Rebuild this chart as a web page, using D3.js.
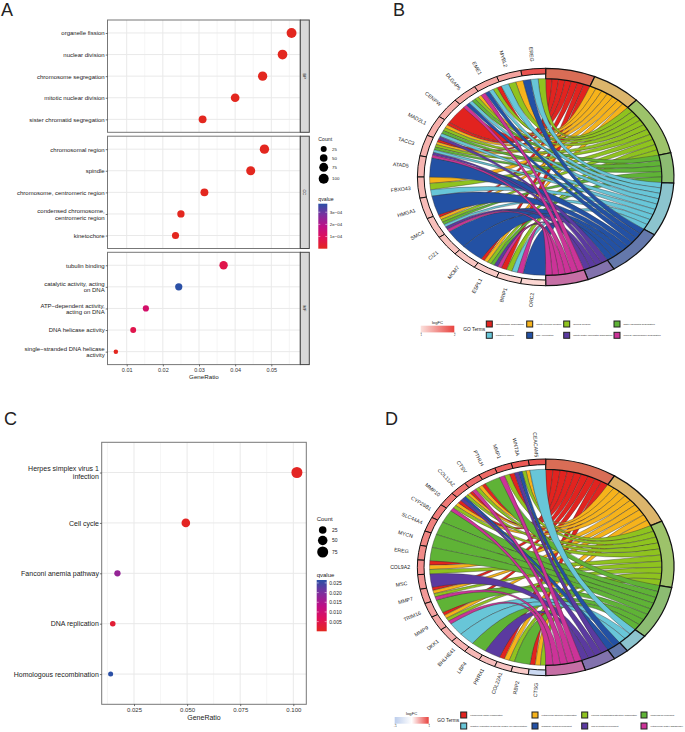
<!DOCTYPE html>
<html>
<head>
<meta charset="utf-8">
<script src="https://cdn.jsdelivr.net/npm/d3@7"></script>
<style>
  body { margin: 0; background: #fff; }
  text { font-family: "Liberation Sans", Arial, sans-serif; fill: #222; }
</style>
</head>
<body>
<script>
// panel A dot plot, one set of arrays per facet
var bpTerms = ["organelle fission", "nuclear division", "chromosome segregation", "mitotic nuclear division", "sister chromatid segregation"];
var bpRatio = [0.0556, 0.0531, 0.0476, 0.0400, 0.0310];
var bpCount = [97, 93, 83, 70, 54];
var bpQ = [0, 0, 0, 0, 0];

var ccTerms = ["chromosomal region", "spindle", "chromosome, centromeric region", "condensed chromosome,\ncentromeric region", "kinetochore"];
var ccRatio = [0.0481, 0.0443, 0.0315, 0.0250, 0.0235];
var ccCount = [84, 77, 55, 44, 41];
var ccQ = [0, 0, 0, 0, 0];

var mfTerms = ["tubulin binding", "catalytic activity, acting\non DNA", "ATP\u2212dependent activity,\nacting on DNA", "DNA helicase activity", "single\u2212stranded DNA helicase\nactivity"];
var mfRatio = [0.0368, 0.0244, 0.0153, 0.0118, 0.0070];
var mfCount = [64, 43, 27, 24, 10];
var mfQ = [0.00007, 0.00037, 0.000125, 0.00007, 0];

var xTicksA = [0.01, 0.02, 0.03, 0.04, 0.05];
var xMinorA = [0.015, 0.025, 0.035, 0.045, 0.055];
var countLegendA = [25, 50, 75, 100];
var qTicksA = [0.0001, 0.0002, 0.0003];
var qLabelsA = ["1e\u221204", "2e\u221204", "3e\u221204"];

// panel C dot plot
var keggTerms = ["Herpes simplex virus 1\ninfection", "Cell cycle", "Fanconi anemia pathway", "DNA replication", "Homologous recombination"];
var keggRatio = [0.1017, 0.0494, 0.0172, 0.0150, 0.0140];
var keggCount = [76, 37, 13, 8, 5];
var keggQ = [0.0005, 0.0005, 0.0175, 0.0025, 0.0265];
var xTicksC = [0.025, 0.05, 0.075, 0.1];
var xMinorC = [0.0125, 0.0375, 0.0625, 0.0875];
var countLegendC = [25, 50, 75];
var qTicksC = [0.005, 0.01, 0.015, 0.02, 0.025];

var qColors = ["#e3271f", "#df0f5a", "#bd0f86", "#7d2f9e", "#2b50a6"];

// chord diagrams. each gene lists its terms by letter, r o g G c b p m
var termCodes = ["r", "o", "g", "G", "c", "b", "p", "m"];
var ribbonColors = ["#e2231f", "#f6b31b", "#8fc31f", "#5fb336", "#68c6d8", "#2351a4", "#5b3aa0", "#cc3398"];
var ringColors = ["#d96d56", "#dcb56b", "#9dc36a", "#8cbc72", "#8cc4ce", "#6478ab", "#8272ad", "#c66fa5"];

var chordBGenes = ["EREG", "MYBL2", "EME1", "DLGAP5", "CENPW", "MAD2L1", "TACC3", "ATAD5", "FBXO43", "HMGA1", "SMC4", "CIZ1", "MCM7", "ESPL1", "BRIP1", "ORC2"];
var chordBLogFC = [1.9, 1.42, 1.4, 1.38, 1.36, 1.34, 1.32, 1.3, 1.28, 1.26, 1.24, 1.22, 1.2, 1.17, 1.14, 1.1];
var chordBLinks = ["gcb", "ogc", "rgcbm", "ogGcbm", "r", "rogGcp", "rogGcpm", "b", "ogc", "b", "rogGcpm", "b", "b", "rogGpm", "rgcm", "b"];
var chordBTerms = ["chromosome segregation", "mitotic nuclear division", "nuclear division", "sister chromatid segregation", "organelle fission", "DNA replication", "mitotic sister chromatid segregation", "nuclear chromosome segregation"];

var chordDGenes = ["CEACAM5", "WNT3A", "MMP1", "PTHLH", "CTSV", "COL11A2", "MMP10", "CYP26B1", "SLC44A4", "MYCN", "EREG", "COL9A2", "MSC", "MMP7", "TRIM16", "MMP9", "DKK1", "BHLHE41", "LBP4", "PRRX1", "COL22A1", "RBP2", "CTSG"];
var chordDLogFC = [0.92, 0.88, 0.84, 0.8, 0.78, 0.75, 0.72, 0.7, 0.67, 0.65, 0.62, 0.6, 0.57, 0.54, 0.5, 0.47, 0.44, 0.41, 0.38, 0.35, 0.32, 0.28, -0.6];
var chordDLinks = ["c", "ogbp", "rgm", "G", "rogm", "rogbp", "rogm", "G", "G", "G", "G", "rog", "p", "rogm", "G", "rogm", "c", "c", "G", "p", "rog", "G", "rog"];
var chordDTerms = ["extracellular matrix organization", "extracellular structure organization", "external encapsulating structure organization", "epidermis development", "negative regulation of skeletal muscle cell differentiation", "mammary gland development", "roof of mouth development", "extracellular matrix disassembly"];

var svg = d3.select("body").append("svg").attr("width", 685).attr("height", 732);
var defs = svg.append("defs");

function addGradient(id, colors, horizontal) {
  var grad = defs.append("linearGradient").attr("id", id)
    .attr("x1", 0).attr("y1", horizontal ? 0 : 1)
    .attr("x2", horizontal ? 1 : 0).attr("y2", 0);
  colors.forEach(function(c, i) {
    grad.append("stop").attr("offset", i / (colors.length - 1)).attr("stop-color", c);
  });
}
addGradient("qGrad", qColors, false);

function qScale(qMax) {
  return d3.scaleLinear()
    .domain(qColors.map(function(c, i) { return i / (qColors.length - 1) * qMax; }))
    .range(qColors);
}

// break "a\nb" tick labels into two centred lines
function wrapLabels(sel, lineH) {
  sel.selectAll("text").each(function(d) {
    var parts = String(d).split("\n");
    if (parts.length < 2) return;
    var t = d3.select(this).text(null);
    parts.forEach(function(p, i) {
      t.append("tspan").attr("x", t.attr("x")).attr("dy", i == 0 ? (0.32 * 6 - lineH / 2 + 0) : lineH).text(p);
    });
    t.attr("dy", null);
  });
}

function dotPanel(o) {
  var g = svg.append("g");
  // y positions use the same 0.6 step padding ggplot gives a discrete axis
  var y = d3.scalePoint().domain(o.terms).range([o.top, o.bottom]).padding(0.6);
  var x = o.x;
  var left = o.left, right = o.right;

  g.selectAll(".minor").data(o.minor).enter().append("line")
    .attr("x1", x).attr("x2", x).attr("y1", o.top).attr("y2", o.bottom)
    .attr("stroke", "#efefef").attr("stroke-width", 0.6);
  g.selectAll(".major").data(o.ticks).enter().append("line")
    .attr("x1", x).attr("x2", x).attr("y1", o.top).attr("y2", o.bottom)
    .attr("stroke", "#e9e9e9").attr("stroke-width", 1);
  g.selectAll(".rowline").data(o.terms).enter().append("line")
    .attr("x1", left).attr("x2", right).attr("y1", y).attr("y2", y)
    .attr("stroke", "#e9e9e9").attr("stroke-width", 1);

  var color = qScale(o.qMax);
  g.selectAll("circle").data(o.terms).enter().append("circle")
    .attr("cx", function(d, i) { return x(o.ratio[i]); })
    .attr("cy", y)
    .attr("r", function(d, i) { return o.size(o.count[i]); })
    .attr("fill", function(d, i) { return color(o.q[i]); });

  g.append("rect").attr("x", left).attr("y", o.top)
    .attr("width", right - left).attr("height", o.bottom - o.top)
    .attr("fill", "none").attr("stroke", "#777").attr("stroke-width", 1);

  var yAxis = g.append("g").attr("transform", "translate(" + left + ",0)")
    .call(d3.axisLeft(y).tickSize(1.8).tickPadding(1));
  yAxis.select(".domain").remove();
  yAxis.selectAll("line").attr("stroke", "#333").attr("stroke-width", 0.7);
  yAxis.selectAll("text").style("font-size", o.labelSize + "px").style("fill", "#222");
  yAxis.call(wrapLabels, o.lineH);

  if (o.showX) {
    var xAxis = g.append("g").attr("transform", "translate(0," + o.bottom + ")")
      .call(d3.axisBottom(x).tickValues(o.ticks).tickFormat(d3.format(o.fmt)).tickSize(1.8).tickPadding(1.5));
    xAxis.select(".domain").remove();
    xAxis.selectAll("line").attr("stroke", "#333").attr("stroke-width", 0.7);
    xAxis.selectAll("text").style("font-size", o.tickSize + "px").style("fill", "#333");
    g.append("text").attr("x", (left + right) / 2 + (o.titleShift || 0)).attr("y", o.titleY)
      .attr("text-anchor", "middle").style("font-size", o.titleSize + "px").text("GeneRatio");
  }
  if (o.strip) {
    g.append("rect").attr("x", right).attr("y", o.top)
      .attr("width", 9).attr("height", o.bottom - o.top)
      .attr("fill", "#d8d8d8").attr("stroke", "#444").attr("stroke-width", 1);
    g.append("text").attr("text-anchor", "middle")
      .attr("transform", "translate(" + (right + 3) + "," + ((o.top + o.bottom) / 2) + ") rotate(90)")
      .style("font-size", "4px").text(o.strip);
  }
}

function legends(o) {
  svg.append("text").attr("x", o.x).attr("y", o.countTitleY).style("font-size", o.titleSize + "px").text("Count");
  o.counts.forEach(function(c, i) {
    svg.append("circle").attr("cx", o.dotX).attr("cy", o.dotY[i]).attr("r", o.size(c)).attr("fill", "#000");
    svg.append("text").attr("x", o.labelX).attr("y", o.dotY[i] + 1.7).style("font-size", o.tickSize + "px").text(c);
  });
  svg.append("text").attr("x", o.x).attr("y", o.qTitleY).style("font-size", o.titleSize + "px").text("qvalue");
  svg.append("rect").attr("x", o.x).attr("y", o.barTop)
    .attr("width", o.barW).attr("height", o.barBottom - o.barTop).attr("fill", "url(#qGrad)");
  var qy = d3.scaleLinear().domain([0, o.qMax]).range([o.barBottom, o.barTop]);
  var ax = svg.append("g").attr("transform", "translate(" + (o.x + o.barW) + ",0)")
    .call(d3.axisRight(qy).tickValues(o.qTicks).tickFormat(function(d, i) { return o.qLabels[i]; }).tickSize(0).tickPadding(2.5));
  ax.select(".domain").remove();
  ax.selectAll("text").style("font-size", o.tickSize + "px").style("fill", "#222");
  o.qTicks.forEach(function(v) {
    svg.append("line").attr("x1", o.x).attr("x2", o.x + 2).attr("y1", qy(v)).attr("y2", qy(v)).attr("stroke", "#fff").attr("stroke-width", 0.5);
    svg.append("line").attr("x1", o.x + o.barW - 2).attr("x2", o.x + o.barW).attr("y1", qy(v)).attr("y2", qy(v)).attr("stroke", "#fff").attr("stroke-width", 0.5);
  });
}

// panel A
var xA = d3.scaleLinear().domain([0.01, 0.05]).range([126.7, 271.3]);
var sizeA = d3.scalePow().exponent(0.5).domain([25, 100]).range([3, 5]);
var facetShared = { x: xA, ticks: xTicksA, minor: xMinorA, left: 107.5, right: 300.3, size: sizeA, qMax: 0.00037,
  labelSize: 6, lineH: 6.3, tickSize: 5.5, titleSize: 6.2, fmt: ".2f", titleY: 379 };
dotPanel(Object.assign({}, facetShared, { terms: bpTerms, ratio: bpRatio, count: bpCount, q: bpQ, top: 20, bottom: 132.3, strip: "BP" }));
dotPanel(Object.assign({}, facetShared, { terms: ccTerms, ratio: ccRatio, count: ccCount, q: ccQ, top: 136.2, bottom: 248.5, strip: "CC" }));
dotPanel(Object.assign({}, facetShared, { terms: mfTerms, ratio: mfRatio, count: mfCount, q: mfQ, top: 252.3, bottom: 364.6, strip: "MF", showX: true, titleShift: 0 }));
legends({ x: 318.3, dotX: 323.7, labelX: 332, countTitleY: 141, qTitleY: 201, dotY: [149, 158, 167.3, 178.7],
  counts: countLegendA, size: sizeA, titleSize: 5.2, tickSize: 4.4, barW: 9, barTop: 203.7, barBottom: 248.7,
  qMax: 0.00037, qTicks: qTicksA, qLabels: qLabelsA });

// panel C
var xC = d3.scaleLinear().domain([0.025, 0.1]).range([134, 293.3]);
var sizeC = d3.scalePow().exponent(0.5).domain([25, 75]).range([3.8, 5.5]);
dotPanel({ terms: keggTerms, ratio: keggRatio, count: keggCount, q: keggQ, x: xC, ticks: xTicksC, minor: xMinorC,
  left: 101.7, right: 306.3, top: 442.3, bottom: 704.3, size: sizeC, qMax: 0.0265,
  labelSize: 7, lineH: 7.4, tickSize: 6, titleSize: 7, fmt: ".3f", showX: true, titleY: 720, titleShift: 0 });
legends({ x: 316.7, dotX: 322.7, labelX: 332, countTitleY: 521, qTitleY: 576.5, dotY: [530, 540.5, 552],
  counts: countLegendC, size: sizeC, titleSize: 6, tickSize: 5, barW: 10, barTop: 580, barBottom: 631.3,
  qMax: 0.0265, qTicks: qTicksC, qLabels: ["0.005", "0.010", "0.015", "0.020", "0.025"] });

function chord(o) {
  var g = svg.append("g").attr("transform", "translate(" + o.cx + "," + o.cy + ") scale(" + o.rx + "," + o.ry + ")");
  var n = o.genes.length;
  var geneAngle = d3.scaleLinear().domain([0, n]).range([0, -Math.PI]);
  var counts = termCodes.map(function(c) {
    return o.links.filter(function(l) { return l.indexOf(c) >= 0; }).length;
  });
  var termAngle = d3.scaleLinear().domain([0, d3.sum(counts)]).range([0, Math.PI]);
  var ribbon = d3.ribbon().radius(0.905);

  var pos = 0;
  termCodes.forEach(function(c, t) {
    o.links.forEach(function(l, k) {
      var j = l.indexOf(c);
      if (j < 0) return;
      g.append("path")
        .attr("d", ribbon({
          source: { startAngle: geneAngle(k + (j + 1) / l.length), endAngle: geneAngle(k + j / l.length) },
          target: { startAngle: termAngle(pos), endAngle: termAngle(pos + 1) }
        }))
        .attr("fill", ribbonColors[t])
        .attr("stroke", "#333").attr("stroke-width", 0.4)
        .attr("vector-effect", "non-scaling-stroke");
      pos += 1;
    });
  });

  // term ring on the right, gene ring on the left
  var termArc = d3.arc().innerRadius(0.905).outerRadius(1);
  var start = 0;
  counts.forEach(function(v, t) {
    g.append("path").attr("d", termArc({ startAngle: termAngle(start), endAngle: termAngle(start + v) }))
      .attr("fill", ringColors[t]).attr("stroke", "#111").attr("stroke-width", 1.2)
      .attr("vector-effect", "non-scaling-stroke");
    start += v;
  });
  var geneArc = d3.arc().innerRadius(0.948).outerRadius(1);
  o.genes.forEach(function(name, k) {
    g.append("path").attr("d", geneArc({ startAngle: geneAngle(k + 1), endAngle: geneAngle(k) }))
      .attr("fill", o.geneColor(o.logFC[k])).attr("stroke", "#111").attr("stroke-width", 1)
      .attr("vector-effect", "non-scaling-stroke");
    var a = geneAngle(k + 0.5);
    var lx = o.cx + 1.135 * o.rx * Math.sin(a);
    var ly = o.cy - 1.135 * o.ry * Math.cos(a);
    svg.append("text").attr("text-anchor", "middle").attr("dy", "0.35em")
      .attr("transform", "translate(" + lx + "," + ly + ") rotate(" + (a * 180 / Math.PI + 90) + ")")
      .style("font-size", "5.2px").text(name);
  });

  // legend under the chord
  var l = o.legend;
  svg.append("text").attr("x", (l.barX0 + l.barX1) / 2).attr("y", l.barY - 2.2).attr("text-anchor", "middle")
    .style("font-size", "4.2px").text("logFC");
  svg.append("rect").attr("x", l.barX0).attr("y", l.barY).attr("width", l.barX1 - l.barX0).attr("height", 6.7)
    .attr("fill", "url(#" + l.grad + ")");
  var fcAxis = svg.append("g").attr("transform", "translate(0," + (l.barY + 6.7) + ")")
    .call(d3.axisBottom(d3.scaleLinear().domain(l.fcDomain).range([l.barX0, l.barX1]))
      .tickValues(l.fcDomain).tickFormat(d3.format("d")).tickSize(1).tickPadding(0.6));
  fcAxis.select(".domain").remove();
  fcAxis.selectAll("line").attr("stroke", "#333").attr("stroke-width", 0.4);
  fcAxis.selectAll("text").style("font-size", "2.6px");
  svg.append("text").attr("x", l.goX).attr("y", l.rowY[0] + 7).style("font-size", "4.8px").text("GO Terms");
  o.terms.forEach(function(name, t) {
    var col = t % 4, row = t < 4 ? 0 : 1;
    var sx = l.colX[col], sy = l.rowY[row];
    svg.append("rect").attr("x", sx - 3).attr("y", sy - 3).attr("width", 6).attr("height", 6)
      .attr("fill", ribbonColors[t]).attr("stroke", "#222").attr("stroke-width", 1);
    svg.append("text").attr("x", sx + 6.5).attr("y", sy + 0.9).style("font-size", l.textSize + "px").text(name);
  });
}

addGradient("fcB", ["#fbe0dc", "#e8433f"], true);
addGradient("fcD", ["#bccdec", "#ffffff", "#e8433f"], true);

chord({ cx: 545.7, cy: 177, rx: 128.3, ry: 108.7, genes: chordBGenes, logFC: chordBLogFC, links: chordBLinks, terms: chordBTerms,
  geneColor: d3.scaleLinear().domain([1, 2]).range(["#fde6e2", "#e8433f"]),
  legend: { barX0: 420.7, barX1: 454.3, barY: 325.7, fcDomain: [1, 2], grad: "fcB", goX: 463.3, rowY: [324, 335.3], colX: [489.3, 529.7, 566.7, 617], textSize: 2.5 } });

chord({ cx: 545.7, cy: 567.3, rx: 128.3, ry: 108.3, genes: chordDGenes, logFC: chordDLogFC, links: chordDLinks, terms: chordDTerms,
  geneColor: d3.scaleLinear().domain([-1, 0, 1]).range(["#a9c0ea", "#ffffff", "#e8433f"]),
  legend: { barX0: 394.7, barX1: 428.7, barY: 717, fcDomain: [-1, 1], grad: "fcD", goX: 437.3, rowY: [715, 726], colX: [463.7, 535, 584.7, 644], textSize: 2.3 } });

// panel letters
[["A", 1, 16], ["B", 393, 16], ["C", 4, 425], ["D", 385, 425]].forEach(function(p) {
  svg.append("text").attr("x", p[1]).attr("y", p[2]).style("font-size", "18px").text(p[0]);
});
</script>
</body>
</html>
